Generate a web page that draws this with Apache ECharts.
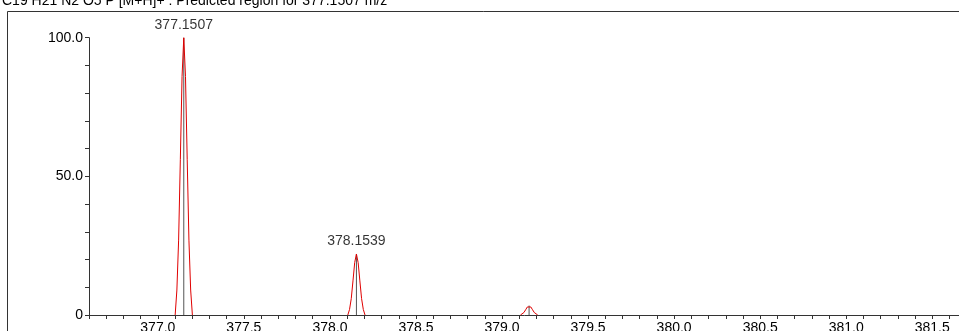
<!DOCTYPE html>
<html><head><meta charset="utf-8">
<style>html,body{margin:0;padding:0;background:#fff;overflow:hidden}#c{width:959px;height:331px}</style>
<script src="https://cdn.jsdelivr.net/npm/echarts/dist/echarts.min.js"></script>
</head><body><div id="c"></div>
<script>
const titleText = 'C19 H21 N2 O5 P [M+H]+ : Predicted region for 377.1507 m/z';
const peakMz = [377.1507, 378.1539, 379.1572];
const peakIntensity = [100, 22.0, 3.4];
const peakLabels = ['377.1507', '378.1539', ''];
const profileOffset = [-0.05, -0.04, -0.03, -0.02, -0.01, 0, 0.01, 0.02, 0.03, 0.04, 0.05];
const profile1Values = [0, 9, 27, 56, 86, 100, 86, 56, 27, 9, 0];
const profile2Values = [0, 2.0, 5.9, 12.3, 18.9, 22, 18.9, 12.3, 5.9, 2.0, 0];
const profile3Values = [0, 0.3, 0.9, 1.9, 2.9, 3.4, 2.9, 1.9, 0.9, 0.3, 0];
const profiles = [profile1Values, profile2Values, profile3Values];
const xMin = 376.6, xMax = 381.7;

const series = [];
peakMz.forEach((mz, i) => {
  series.push({
    type: 'line', data: [[mz, 0], [mz, peakIntensity[i]]],
    showSymbol: false, silent: true, z: 2,
    lineStyle: { color: '#555', width: 1 }
  });
});
profiles.forEach((vals, i) => {
  series.push({
    type: 'line',
    data: profileOffset.map((o, k) => [+(peakMz[i] + o).toFixed(4), vals[k]]),
    showSymbol: false, silent: true, z: 3,
    lineStyle: { color: '#e00000', width: 1 }
  });
});
series.push({
  type: 'scatter', silent: true, z: 4, symbolSize: 1,
  itemStyle: { color: 'rgba(0,0,0,0)' },
  data: peakMz.map((mz, i) => [mz, peakIntensity[i], peakLabels[i]]),
  label: { show: true, position: 'top', distance: 5, color: '#000', fontSize: 14,
    fontFamily: 'Liberation Sans, Arial, sans-serif', formatter: p => p.data[2] }
});

const chart = echarts.init(document.getElementById('c'), null, { renderer: 'canvas' });
chart.setOption({
  animation: false,
  backgroundColor: '#fff',
  textStyle: { fontFamily: 'Liberation Sans, Arial, sans-serif' },
  grid: { left: 89, top: 37.7, right: -7.7, bottom: 16, containLabel: false, outerBoundsMode: 'none' },
  xAxis: {
    type: 'value', min: xMin, max: xMax, interval: 0.1,
    axisLine: { show: true, lineStyle: { color: '#333', width: 1 } },
    axisTick: { show: true, length: 4, lineStyle: { color: '#333' } },
    splitLine: { show: false },
    axisLabel: { color: '#000', fontSize: 14, margin: 6, showMinLabel: true, showMaxLabel: true,
      formatter: v => (Math.abs(v * 2 - Math.round(v * 2)) < 1e-6) ? v.toFixed(1) : '' }
  },
  yAxis: {
    type: 'value', min: 0, max: 100, interval: 10,
    axisLine: { show: true, lineStyle: { color: '#333', width: 1 } },
    axisTick: { show: true, length: 4, lineStyle: { color: '#333' } },
    splitLine: { show: false },
    axisLabel: { color: '#000', fontSize: 14, margin: 6,
      formatter: v => v === 0 ? '0' : (v === 50 || v === 100 ? v.toFixed(1) : '') }
  },
  graphic: [
    { type: 'polyline', silent: true, shape: { points: [[7.5, 340], [7.5, 11.5], [970, 11.5]] },
      style: { stroke: '#333', lineWidth: 1, fill: null } },
    { type: 'text', x: 2, y: -6, silent: true,
      style: { text: titleText, fill: '#000', font: '14px "Liberation Sans", Arial, sans-serif' } },
    { type: 'rect', silent: true, z: 100, shape: { x: 955, y: 13, width: 10, height: 300 },
      style: { fill: '#fff' } }
  ],
  series: series
});
</script>
</body></html>
